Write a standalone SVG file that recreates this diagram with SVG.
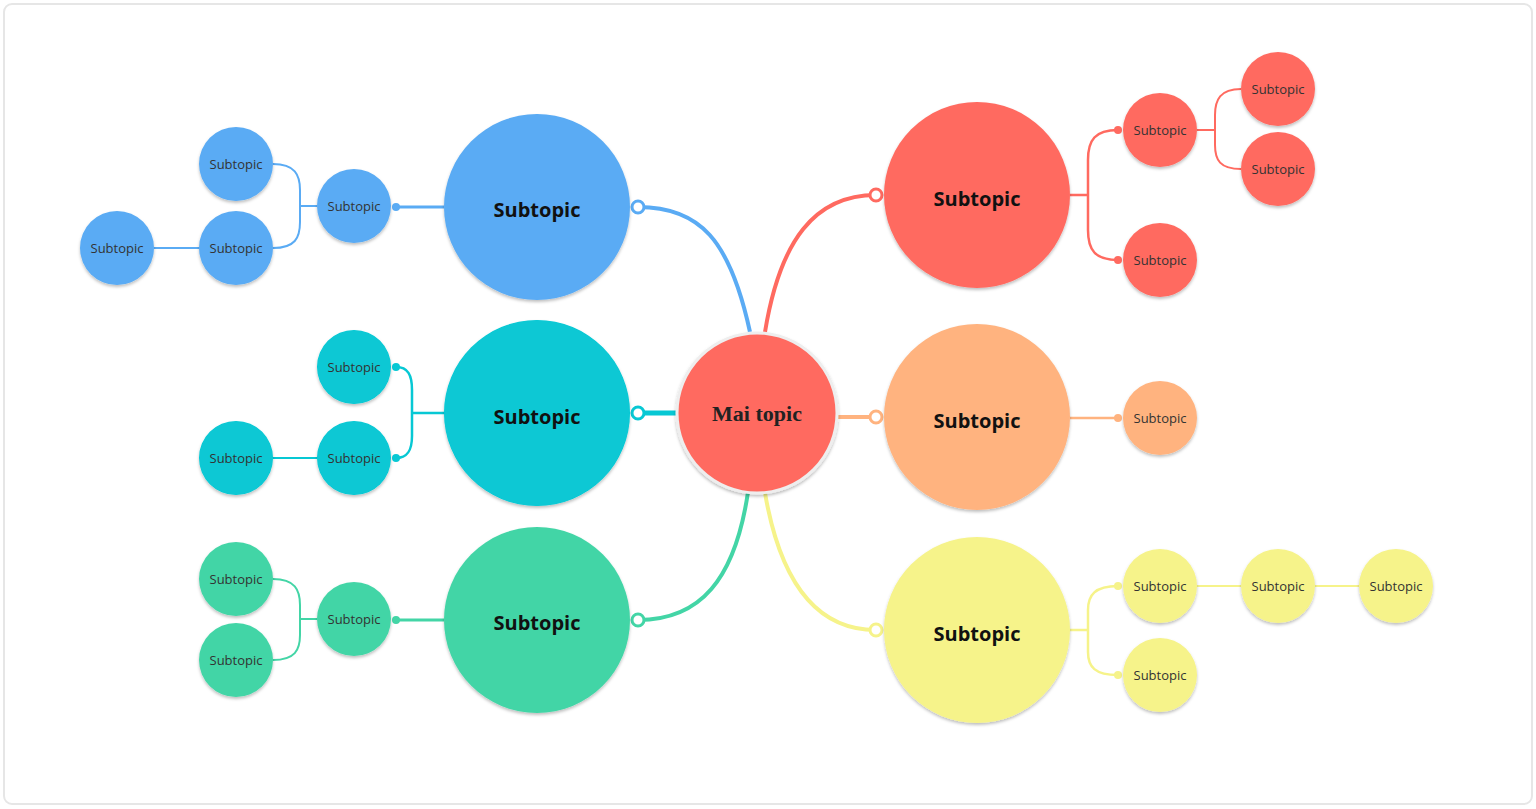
<svg xmlns="http://www.w3.org/2000/svg" width="1536" height="809" viewBox="0 0 1536 809">
<style>
.big{font:bold 20px "Open Sans",sans-serif;fill:#111;text-anchor:middle;dominant-baseline:central}
.sm{font:13px "Open Sans",sans-serif;fill:#333;text-anchor:middle;dominant-baseline:central}
.main{font:bold 22px "Liberation Serif",serif;fill:#222;text-anchor:middle;dominant-baseline:central}
circle.n{filter:url(#sh)}
.c path,.c line{fill:none}
</style>
<defs>
<filter id="sh" x="-20%" y="-20%" width="140%" height="140%"><feDropShadow dx="0" dy="2" stdDeviation="1.5" flood-color="#000" flood-opacity="0.25"/></filter>
</defs>
<rect x="4" y="4" width="1528" height="800" rx="8" fill="#fff" stroke="#e6e6e6" stroke-width="2"/>
<g class="c" id="connectors">
<g stroke="#5aabf4">
<path d="M750,332 C730,240 700,207 638,207" stroke-width="4"/>
<circle cx="638" cy="207" r="6" fill="#fff" stroke-width="3"/>
<line x1="444" y1="207" x2="396" y2="207" stroke-width="3"/><circle cx="396" cy="207" r="4" fill="#5aabf4" stroke="none"/>
<path d="M317,206 H300 M273,164 C295,164 300,175 300,190 V222 C300,238 295,248 273,248" stroke-width="2"/>
<line x1="199" y1="248" x2="154" y2="248" stroke-width="2"/>
</g>
<g stroke="#07c8d4">
<line x1="678" y1="413" x2="638" y2="413" stroke-width="5"/>
<circle cx="638" cy="413" r="6" fill="#fff" stroke-width="3"/>
<path d="M444,413 H412 M396,367 C408,367 412,375 412,390 V436 C412,450 408,458 396,458" stroke-width="2.5"/>
<circle cx="396" cy="367" r="4" fill="#07c8d4" stroke="none"/><circle cx="396" cy="458" r="4" fill="#07c8d4" stroke="none"/>
<line x1="273" y1="458" x2="317" y2="458" stroke-width="2"/>
</g>
<g stroke="#43d5a6">
<path d="M748,492 C735,580 700,620 638,620" stroke-width="4"/>
<circle cx="638" cy="620" r="6" fill="#fff" stroke-width="3"/>
<line x1="444" y1="620" x2="396" y2="620" stroke-width="3"/><circle cx="396" cy="620" r="4" fill="#43d5a6" stroke="none"/>
<path d="M317,619 H300 M273,579 C295,579 300,590 300,605 V635 C300,650 295,660 273,660" stroke-width="2"/>
</g>
<g stroke="#ff6a60">
<path d="M765,332 C780,240 815,195 876,195" stroke-width="4"/>
<circle cx="876" cy="195" r="6" fill="#fff" stroke-width="3"/>
<path d="M1070,195 H1088 M1118,130 C1095,130 1088,140 1088,160 V230 C1088,250 1095,260 1118,260" stroke-width="2.5"/>
<circle cx="1118" cy="130" r="4" fill="#ff6a60" stroke="none"/><circle cx="1118" cy="260" r="4" fill="#ff6a60" stroke="none"/>
<path d="M1197,130 H1215 M1241,89 C1220,89 1215,100 1215,115 V145 C1215,160 1220,169 1241,169" stroke-width="2"/>
</g>
<g stroke="#ffb37f">
<line x1="836" y1="417" x2="876" y2="417" stroke-width="4"/>
<circle cx="876" cy="417" r="6" fill="#fff" stroke-width="3"/>
<line x1="1070" y1="418" x2="1118" y2="418" stroke-width="2.5"/><circle cx="1118" cy="418" r="4" fill="#ffb37f" stroke="none"/>
</g>
<g stroke="#f6f38a">
<path d="M765,493 C780,580 815,630 876,630" stroke-width="4"/>
<circle cx="876" cy="630" r="6" fill="#fff" stroke-width="3"/>
<path d="M1070,630 H1088 M1118,586 C1095,586 1088,595 1088,610 V652 C1088,667 1095,675 1118,675" stroke-width="2.5"/>
<circle cx="1118" cy="586" r="4" fill="#f6f38a" stroke="none"/><circle cx="1118" cy="675" r="4" fill="#f6f38a" stroke="none"/>
<line x1="1197" y1="586" x2="1241" y2="586" stroke-width="2"/><line x1="1315" y1="586" x2="1359" y2="586" stroke-width="2"/>
</g>
</g>
<g id="main"><circle class="n" cx="757" cy="413" r="80" fill="#ff6a60" stroke="#eee" stroke-width="3"/><text class="main" x="757" y="413">Mai topic</text></g>
<g id="b1"><circle class="n" cx="537" cy="207" r="93" fill="#5aabf4"/><text class="big" x="537" y="209">Subtopic</text></g>
<g id="t1"><circle class="n" cx="537" cy="413" r="93" fill="#07c8d4"/><text class="big" x="537" y="416">Subtopic</text></g>
<g id="g1"><circle class="n" cx="537" cy="620" r="93" fill="#43d5a6"/><text class="big" x="537" y="622">Subtopic</text></g>
<g id="r1"><circle class="n" cx="977" cy="195" r="93" fill="#ff6a60"/><text class="big" x="977" y="198">Subtopic</text></g>
<g id="o1"><circle class="n" cx="977" cy="417" r="93" fill="#ffb37f"/><text class="big" x="977" y="420">Subtopic</text></g>
<g id="y1"><circle class="n" cx="977" cy="630" r="93" fill="#f6f38a"/><text class="big" x="977" y="633">Subtopic</text></g>
<g id="b2"><circle class="n" cx="354" cy="206" r="37" fill="#5aabf4"/><text class="sm" x="354" y="206">Subtopic</text></g>
<g id="b3"><circle class="n" cx="236" cy="164" r="37" fill="#5aabf4"/><text class="sm" x="236" y="164">Subtopic</text></g>
<g id="b4"><circle class="n" cx="236" cy="248" r="37" fill="#5aabf4"/><text class="sm" x="236" y="248">Subtopic</text></g>
<g id="b5"><circle class="n" cx="117" cy="248" r="37" fill="#5aabf4"/><text class="sm" x="117" y="248">Subtopic</text></g>
<g id="t2"><circle class="n" cx="354" cy="367" r="37" fill="#07c8d4"/><text class="sm" x="354" y="367">Subtopic</text></g>
<g id="t3"><circle class="n" cx="354" cy="458" r="37" fill="#07c8d4"/><text class="sm" x="354" y="458">Subtopic</text></g>
<g id="t4"><circle class="n" cx="236" cy="458" r="37" fill="#07c8d4"/><text class="sm" x="236" y="458">Subtopic</text></g>
<g id="g2"><circle class="n" cx="354" cy="619" r="37" fill="#43d5a6"/><text class="sm" x="354" y="619">Subtopic</text></g>
<g id="g3"><circle class="n" cx="236" cy="579" r="37" fill="#43d5a6"/><text class="sm" x="236" y="579">Subtopic</text></g>
<g id="g4"><circle class="n" cx="236" cy="660" r="37" fill="#43d5a6"/><text class="sm" x="236" y="660">Subtopic</text></g>
<g id="r2"><circle class="n" cx="1160" cy="130" r="37" fill="#ff6a60"/><text class="sm" x="1160" y="130">Subtopic</text></g>
<g id="r3"><circle class="n" cx="1160" cy="260" r="37" fill="#ff6a60"/><text class="sm" x="1160" y="260">Subtopic</text></g>
<g id="r4"><circle class="n" cx="1278" cy="89" r="37" fill="#ff6a60"/><text class="sm" x="1278" y="89">Subtopic</text></g>
<g id="r5"><circle class="n" cx="1278" cy="169" r="37" fill="#ff6a60"/><text class="sm" x="1278" y="169">Subtopic</text></g>
<g id="o2"><circle class="n" cx="1160" cy="418" r="37" fill="#ffb37f"/><text class="sm" x="1160" y="418">Subtopic</text></g>
<g id="y2"><circle class="n" cx="1160" cy="586" r="37" fill="#f6f38a"/><text class="sm" x="1160" y="586">Subtopic</text></g>
<g id="y3"><circle class="n" cx="1160" cy="675" r="37" fill="#f6f38a"/><text class="sm" x="1160" y="675">Subtopic</text></g>
<g id="y4"><circle class="n" cx="1278" cy="586" r="37" fill="#f6f38a"/><text class="sm" x="1278" y="586">Subtopic</text></g>
<g id="y5"><circle class="n" cx="1396" cy="586" r="37" fill="#f6f38a"/><text class="sm" x="1396" y="586">Subtopic</text></g>
</svg>
